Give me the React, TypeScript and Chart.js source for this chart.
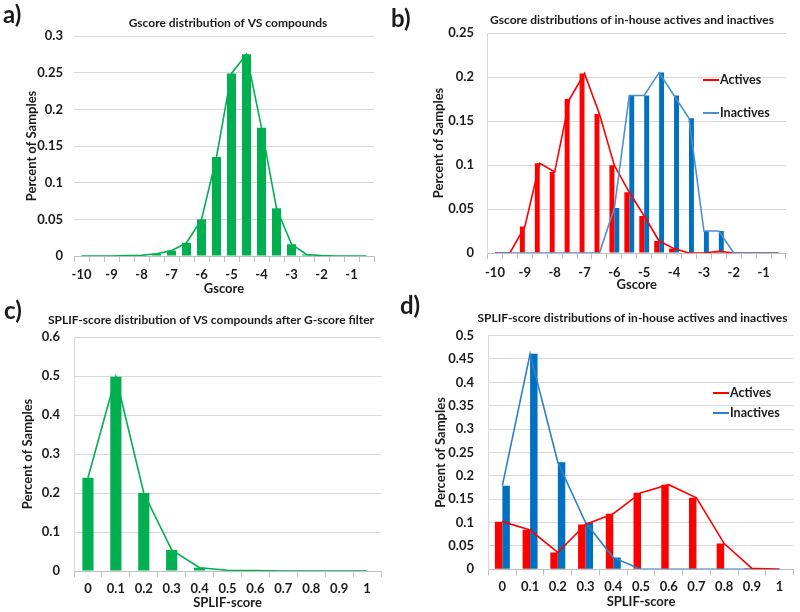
import React, { useEffect, useRef } from "react";
import { Chart, registerables } from "chart.js";
Chart.register(...registerables);

const FONT = "Lato, 'Open Sans', 'DejaVu Sans', sans-serif";
const TEXT = "#1a1a1a";
const GREEN = "#00b050";
const RED = "#ff0000";
const BLUE_BAR = "#0070c0";
const BLUE_LINE_B = "#4f8fd0";
const BLUE_LINE_D = "#2f7fc8";

// ---------- data ----------
const gscoreCategories = ["-10", "-9.5", "-9", "-8.5", "-8", "-7.5", "-7", "-6.5", "-6", "-5.5", "-5", "-4.5", "-4", "-3.5", "-3", "-2.5", "-2", "-1.5", "-1", "-0.5"];
const gscoreTickLabels = ["-10", "", "-9", "", "-8", "", "-7", "", "-6", "", "-5", "", "-4", "", "-3", "", "-2", "", "-1", ""];
const vsGscore = [0, 0, 0, 0.0005, 0.001, 0.003, 0.0073, 0.018, 0.05, 0.135, 0.249, 0.275, 0.175, 0.065, 0.016, 0.002, 0.0005, 0, 0, 0];
const activesGscore = [0, 0, 0.03, 0.102, 0.092, 0.175, 0.204, 0.158, 0.0996, 0.069, 0.042, 0.0136, 0.005, 0, 0, 0.002, 0, 0, 0, 0];
const inactivesGscore = [0, 0, 0, 0, 0, 0, 0, 0, 0.051, 0.179, 0.179, 0.205, 0.179, 0.153, 0.025, 0.025, 0, 0, 0, 0];

const splifCategories = ["0", "0.1", "0.2", "0.3", "0.4", "0.5", "0.6", "0.7", "0.8", "0.9", "1"];
const splifTickLabels = ["0", "0.1", "0.2", "0.3", "0.4", "0.5", "0.6", "0.7", "0.8", "0.9", "1"];
const vsSplif = [0.239, 0.498, 0.2, 0.054, 0.0085, 0.002, 0.001, 0, 0, 0, 0];
const activesSplif = [0.102, 0.084, 0.036, 0.096, 0.119, 0.164, 0.181, 0.153, 0.055, 0.002, 0];
const inactivesSplif = [0.179, 0.461, 0.229, 0.1, 0.025, 0, 0, 0, 0, 0, 0];

const yMaxA = 0.3, yStepA = 0.05;
const yMaxB = 0.25, yStepB = 0.05;
const yMaxC = 0.6, yStepC = 0.1;
const yMaxD = 0.5, yStepD = 0.05;

// ---------- panel specs ----------
type Legend = { x: number; items: { text: string; color: string; y: number }[] };
type Spec = {
  x0: number; y0: number; w: number; h: number;
  L: number; T: number; R: number; B: number;
  label: string; labelX: number; labelY: number;
  title: string; titleX: number; titleY: number;
  xTitle: string; xTitleY: number; yTitleX: number; xTickY: number; yTickRight: number;
  categories: string[]; tickLabels: string[]; yMax: number; yStep: number;
  datasets: any[]; legend?: Legend; yBorder: boolean;
};

const lineDs = (label: string, data: number[], color: string, order: number) => ({
  type: "line", label, data, borderColor: color, backgroundColor: color,
  borderWidth: 1.6, pointRadius: 0, tension: 0, order,
});
const barDs = (label: string, data: number[], color: string, bp: number, cp: number) => ({
  type: "bar", label, data, backgroundColor: color, borderWidth: 0,
  barPercentage: bp, categoryPercentage: cp, order: 10,
});

const specs: Spec[] = [
  {
    x0: 0, y0: 0, w: 388, h: 300, L: 74, T: 36, R: 374, B: 256,
    label: "a)", labelX: 3, labelY: 15,
    title: "Gscore distribution of VS compounds", titleX: 228, titleY: 23,
    xTitle: "Gscore", xTitleY: 288.5, yTitleX: 32, xTickY: 275, yTickRight: 63,
    categories: gscoreCategories, tickLabels: gscoreTickLabels, yMax: yMaxA, yStep: yStepA,
    datasets: [lineDs("VS", vsGscore, GREEN, 0), barDs("VS bars", vsGscore, GREEN, 0.6, 1)],
    yBorder: false,
  },
  {
    x0: 388, y0: 0, w: 412, h: 298, L: 487.5, T: 33, R: 786, B: 253,
    label: "b)", labelX: 391, labelY: 19,
    title: "Gscore distributions of in-house actives and inactives", titleX: 632, titleY: 20,
    xTitle: "Gscore", xTitleY: 285, yTitleX: 439, xTickY: 272.5, yTickRight: 474,
    categories: gscoreCategories, tickLabels: gscoreTickLabels, yMax: yMaxB, yStep: yStepB,
    datasets: [
      lineDs("Inactives", inactivesGscore, BLUE_LINE_B, 0),
      lineDs("Actives", activesGscore, RED, 1),
      barDs("Actives bars", activesGscore, RED, 1, 0.66),
      barDs("Inactives bars", inactivesGscore, BLUE_BAR, 1, 0.66),
    ],
    legend: { x: 703, items: [{ text: "Actives", color: RED, y: 80 }, { text: "Inactives", color: BLUE_LINE_B, y: 113 }] },
    yBorder: true,
  },
  {
    x0: 0, y0: 292, w: 388, h: 320, L: 74, T: 337, R: 381, B: 571,
    label: "c)", labelX: 4, labelY: 311,
    title: "SPLIF-score distribution of VS compounds after G-score filter", titleX: 211, titleY: 320,
    xTitle: "SPLIF-score", xTitleY: 603, yTitleX: 27.5, xTickY: 589, yTickRight: 60,
    categories: splifCategories, tickLabels: splifTickLabels, yMax: yMaxC, yStep: yStepC,
    datasets: [lineDs("VS", vsSplif, GREEN, 0), barDs("VS bars", vsSplif, GREEN, 0.4, 1)],
    yBorder: true,
  },
  {
    x0: 388, y0: 290, w: 412, h: 322, L: 488.5, T: 335.6, R: 793.5, B: 569.3,
    label: "d)", labelX: 400, labelY: 306,
    title: "SPLIF-score distributions of in-house actives and inactives", titleX: 632.5, titleY: 318,
    xTitle: "SPLIF-score", xTitleY: 601.5, yTitleX: 441, xTickY: 587, yTickRight: 474,
    categories: splifCategories, tickLabels: splifTickLabels, yMax: yMaxD, yStep: yStepD,
    datasets: [
      lineDs("Actives", activesSplif, RED, 0),
      lineDs("Inactives", inactivesSplif, BLUE_LINE_D, 1),
      barDs("Actives bars", activesSplif, RED, 1, 0.54),
      barDs("Inactives bars", inactivesSplif, BLUE_BAR, 1, 0.54),
    ],
    legend: { x: 713, items: [{ text: "Actives", color: RED, y: 393 }, { text: "Inactives", color: BLUE_LINE_D, y: 413 }] },
    yBorder: true,
  },
];

function textPlugin(s: Spec) {
  return {
    id: "panelText",
    afterDraw(chart: any) {
      const ctx = chart.ctx as CanvasRenderingContext2D;
      ctx.save();
      ctx.fillStyle = TEXT;
      ctx.textBaseline = "middle";
      ctx.textAlign = "left";
      ctx.font = `bold 24px ${FONT}`;
      ctx.fillText(s.label, s.labelX - s.x0, s.labelY - s.y0);
      ctx.font = `bold 12px ${FONT}`;
      ctx.textAlign = "center";
      ctx.fillText(s.title, s.titleX - s.x0, s.titleY - s.y0);
      if (s.legend) {
        ctx.textAlign = "left";
        ctx.font = `bold 12.5px ${FONT}`;
        for (const it of s.legend.items) {
          const lx = s.legend.x - s.x0;
          const ly = it.y - s.y0;
          ctx.strokeStyle = it.color;
          ctx.lineWidth = 2;
          ctx.beginPath();
          ctx.moveTo(lx, ly);
          ctx.lineTo(lx + 16, ly);
          ctx.stroke();
          ctx.fillStyle = TEXT;
          ctx.fillText(it.text, lx + 17, ly);
        }
      }
      ctx.restore();
    },
  };
}

function Panel({ s }: { s: Spec }) {
  const ref = useRef<HTMLCanvasElement>(null);
  useEffect(() => {
    if (!ref.current) return;
    const L = s.L - s.x0, R = s.R - s.x0, T = s.T - s.y0, B = s.B - s.y0;
    const tickFont = { family: FONT, size: 13, weight: "bold" as const };
    const titleFont = { family: FONT, size: 13, weight: "bold" as const };
    const lh = 13 * 1.2;
    const chart = new Chart(ref.current, {
      type: "bar",
      data: { labels: s.categories, datasets: s.datasets as any },
      options: {
        animation: false,
        responsive: false,
        maintainAspectRatio: false,
        layout: { padding: { left: 0, top: T, right: s.w - R, bottom: 0 } },
        plugins: { legend: { display: false }, title: { display: false }, tooltip: { enabled: false } },
        scales: {
          x: {
            type: "category",
            offset: true,
            grid: { offset: true, drawOnChartArea: false, drawTicks: true, tickLength: 6, color: "#bfbfbf" },
            border: { display: true, color: "#bfbfbf" },
            ticks: {
              autoSkip: false, maxRotation: 0, minRotation: 0, color: TEXT, font: tickFont,
              padding: s.xTickY - s.B - 6 - lh / 2,
              callback: (_v: any, i: number) => s.tickLabels[i],
            },
            title: { display: true, text: s.xTitle, color: TEXT, font: titleFont, padding: { top: 0, bottom: s.h - (s.xTitleY - s.y0) - lh / 2 } },
            afterFit: (sc: any) => { sc.height = s.h - B; },
          },
          y: {
            min: 0, max: s.yMax,
            grid: { color: "#d9d9d9", drawTicks: false },
            border: { display: s.yBorder, color: "#d9d9d9" },
            ticks: {
              stepSize: s.yStep, color: TEXT, font: tickFont, padding: s.L - s.yTickRight,
              callback: (v: any) => String(Number(Number(v).toFixed(2))),
            },
            title: { display: true, text: "Percent of Samples", color: TEXT, font: titleFont, padding: { top: s.yTitleX - s.x0 - lh / 2, bottom: 0 } },
            afterFit: (sc: any) => { sc.width = L; },
          },
        },
      },
      plugins: [textPlugin(s)],
    });
    return () => chart.destroy();
  }, [s]);
  return (
    <canvas
      ref={ref}
      width={s.w}
      height={s.h}
      style={{ position: "absolute", left: s.x0, top: s.y0, width: s.w, height: s.h }}
    />
  );
}

export default function App() {
  return (
    <div style={{ position: "absolute", left: 0, top: 0, width: 800, height: 612, background: "#ffffff", overflow: "hidden" }}>
      {specs.map((s, i) => (
        <Panel key={i} s={s} />
      ))}
    </div>
  );
}
